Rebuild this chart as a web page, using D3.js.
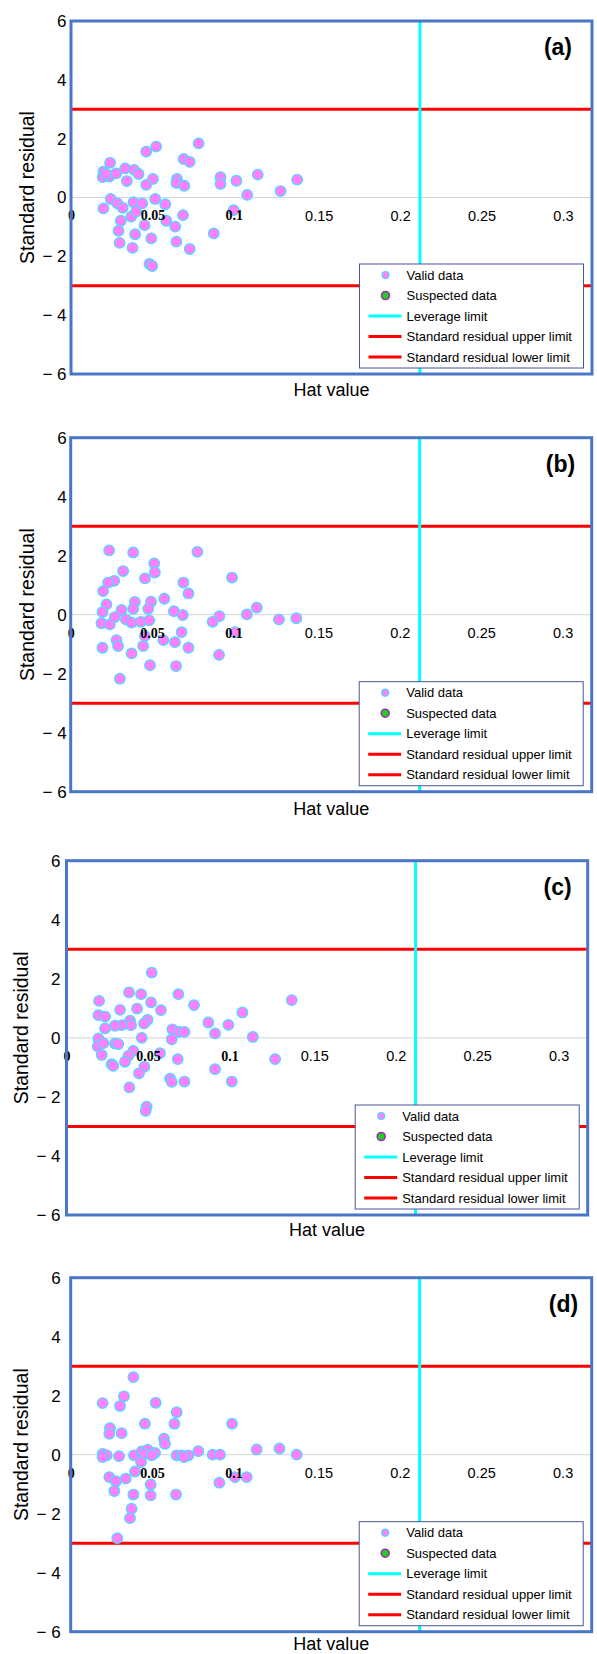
<!DOCTYPE html>
<html>
<head>
<meta charset="utf-8">
<script src="https://cdn.jsdelivr.net/npm/d3@7"></script>
<style>
  body { margin: 0; background: #fff; }
  svg { display: block; font-family: "Liberation Sans", Arial, sans-serif; }
</style>
</head>
<body>
<svg id="chart" width="597" height="1654"></svg>
<script>
// values (hat value, standard residual)
const hatA = [0.0784,0.0523,0.0462,0.0692,0.0729,0.0240,0.0199,0.0195,0.0236,0.0216,0.0277,0.0333,0.0388,0.0415,0.0343,0.0503,0.0462,0.0651,0.0647,0.0696,0.0918,0.0918,0.1016,0.1147,0.1082,0.1287,0.1389,0.0244,0.0285,0.0318,0.0199,0.0384,0.0437,0.0517,0.0579,0.0370,0.0400,0.0306,0.0452,0.0585,0.0640,0.0688,0.0292,0.0394,0.0493,0.0298,0.0378,0.0647,0.0729,0.0877,0.0999,0.0482,0.0499];
const resA = [1.84,1.73,1.56,1.31,1.21,1.18,0.88,0.69,0.71,0.80,0.82,0.99,0.94,0.80,0.56,0.63,0.43,0.63,0.50,0.40,0.69,0.46,0.57,0.78,0.09,0.22,0.61,-0.05,-0.20,-0.35,-0.37,-0.16,-0.20,-0.05,-0.23,-0.65,-0.48,-0.79,-0.94,-0.79,-0.99,-0.60,-1.13,-1.25,-1.39,-1.54,-1.71,-1.50,-1.75,-1.22,-0.43,-2.26,-2.33];

const hatB = [0.0236,0.0384,0.0778,0.0513,0.0517,0.0322,0.0456,0.0267,0.0230,0.0199,0.0692,0.0723,0.0991,0.0220,0.0195,0.0312,0.0394,0.0384,0.0493,0.0476,0.0575,0.0634,0.0688,0.0913,0.0872,0.1082,0.1143,0.1279,0.1386,0.0189,0.0240,0.0271,0.0339,0.0374,0.0431,0.0482,0.0456,0.0569,0.0640,0.0681,0.1010,0.0281,0.0291,0.0195,0.0445,0.0374,0.0723,0.0911,0.0487,0.0647,0.0302];
const resB = [2.18,2.11,2.13,1.74,1.43,1.48,1.23,1.15,1.09,0.80,1.09,0.72,1.26,0.35,0.09,0.16,0.43,0.20,0.44,0.20,0.54,0.12,-0.01,-0.05,-0.24,0.01,0.24,-0.16,-0.12,-0.29,-0.33,-0.08,-0.16,-0.27,-0.24,-0.19,-0.72,-0.86,-0.93,-0.59,-0.59,-0.86,-1.06,-1.12,-1.06,-1.31,-1.12,-1.36,-1.71,-1.74,-2.17];

const hatC = [0.0523,0.0384,0.0458,0.0200,0.0687,0.0519,0.0783,0.1383,0.0329,0.0433,0.0580,0.1080,0.0196,0.0237,0.0390,0.0396,0.0339,0.0298,0.0498,0.0476,0.0237,0.0871,0.0994,0.0912,0.0650,0.0691,0.0724,0.0646,0.0462,0.1144,0.0196,0.0192,0.0226,0.0298,0.0318,0.0216,0.0410,0.0380,0.0359,0.0277,0.0287,0.0478,0.0445,0.0574,0.0683,0.1281,0.0912,0.0386,0.0636,0.0646,0.0724,0.1015,0.0492,0.0486];
const resC = [2.21,1.54,1.48,1.25,1.48,1.20,1.11,1.28,0.95,0.99,0.94,0.86,0.77,0.72,0.58,0.43,0.43,0.41,0.61,0.49,0.32,0.52,0.44,0.15,0.29,0.20,0.20,-0.05,0.00,0.03,-0.02,-0.29,-0.18,-0.19,-0.21,-0.58,-0.44,-0.61,-0.81,-0.89,-0.95,-0.98,-1.20,-0.52,-0.72,-0.72,-1.06,-1.68,-1.38,-1.49,-1.48,-1.48,-2.33,-2.47];

const hatD = [0.0385,0.0196,0.0327,0.0303,0.0522,0.0651,0.0637,0.0456,0.0991,0.0241,0.0237,0.0313,0.0573,0.0579,0.0196,0.0221,0.0196,0.0297,0.0389,0.0436,0.0473,0.0456,0.0518,0.0497,0.0432,0.0651,0.0682,0.0723,0.0696,0.0784,0.0872,0.0917,0.1142,0.1282,0.1388,0.0237,0.0278,0.0338,0.0395,0.0268,0.0385,0.0491,0.0491,0.0647,0.0913,0.1009,0.1081,0.0374,0.0364,0.0286];
const resD = [2.63,1.75,1.98,1.65,1.76,1.44,1.05,1.05,1.05,0.90,0.71,0.73,0.54,0.37,0.03,-0.02,-0.08,-0.05,-0.02,0.11,0.17,0.03,0.06,-0.02,-0.25,-0.02,-0.02,-0.02,-0.08,0.12,0.00,0.00,0.18,0.21,0.00,-0.76,-0.90,-0.81,-0.57,-1.23,-1.35,-1.01,-1.38,-1.35,-0.95,-0.76,-0.76,-1.83,-2.15,-2.83];

const panelTags = ["(a)", "(b)", "(c)", "(d)"];
const xTicks = [0, 0.05, 0.1, 0.15, 0.2, 0.25, 0.3];
const xTickLabels = ["0", "0.05", "0.1", "0.15", "0.2", "0.25", "0.3"];
const yTicks = [-6, -4, -2, 0, 2, 4, 6];
const leverageLimit = 0.2143;
const residLimits = [3, -3];
const legendLabels = ["Valid data", "Suspected data", "Leverage limit", "Standard residual upper limit", "Standard residual lower limit"];

const xDomain = [0, 0.32];
const yDomain = [-6, 6];

// where each panel sits on the page
const panels = [
    { tag: panelTags[0], hat: hatA, res: resA, left: 71,   right: 592,   top: 21,    bottom: 374,    labelPad: 4.5, titleX: 26.7, tagInset: 20,   hatGap: 16 },
    { tag: panelTags[1], hat: hatB, res: resB, left: 70.7, right: 591.7, top: 437.7, bottom: 791.7,  labelPad: 4,   titleX: 26.7, tagInset: 16.5, hatGap: 17 },
    { tag: panelTags[2], hat: hatC, res: resC, left: 66.5, right: 587.7, top: 860.7, bottom: 1215,   labelPad: 6,   titleX: 20.7, tagInset: 16,   hatGap: 14.5 },
    { tag: panelTags[3], hat: hatD, res: resD, left: 70.7, right: 591.7, top: 1277.7, bottom: 1631.7, labelPad: 10, titleX: 20.7, tagInset: 13.5, hatGap: 12.5 }
];

const colors = {
    frame: "#4a76c8",
    point: "#ff7fff",
    pointEdge: "#45dcff",
    leverage: "#00ffff",
    limit: "#ff0000",
    zero: "#d4d4d4",
    legendEdge: "#46559a"
};

const svg = d3.select("#chart");

function drawPanel(p) {
    var x = d3.scaleLinear().domain(xDomain).range([p.left, p.right]);
    var y = d3.scaleLinear().domain(yDomain).range([p.bottom, p.top]);
    var g = svg.append("g");

    g.append("rect")
        .attr("x", p.left).attr("y", p.top)
        .attr("width", p.right - p.left).attr("height", p.bottom - p.top)
        .attr("fill", "#fff");

    // zero grid line
    g.append("line")
        .attr("x1", p.left).attr("x2", p.right)
        .attr("y1", y(0)).attr("y2", y(0))
        .attr("stroke", colors.zero).attr("stroke-width", 1);

    // residual limits
    g.selectAll(".limit")
        .data(residLimits)
        .enter().append("line")
        .attr("class", "limit")
        .attr("x1", p.left).attr("x2", p.right)
        .attr("y1", function (d) { return y(d); })
        .attr("y2", function (d) { return y(d); })
        .attr("stroke", colors.limit).attr("stroke-width", 3);

    // leverage limit
    g.append("line")
        .attr("x1", x(leverageLimit)).attr("x2", x(leverageLimit))
        .attr("y1", p.top).attr("y2", p.bottom)
        .attr("stroke", colors.leverage).attr("stroke-width", 3);

    g.selectAll(".pt")
        .data(d3.range(p.hat.length))
        .enter().append("circle")
        .attr("class", "pt")
        .attr("cx", function (i) { return x(p.hat[i]); })
        .attr("cy", function (i) { return y(p.res[i]); })
        .attr("r", 5.3)
        .attr("fill", colors.point)
        .attr("stroke", colors.pointEdge)
        .attr("stroke-width", 1.2);

    // x axis sits on the zero line
    var xAxis = g.append("g")
        .attr("transform", "translate(0," + y(0) + ")")
        .call(d3.axisBottom(x).tickValues(xTicks).tickSize(0).tickPadding(13)
            .tickFormat(function (d, i) { return xTickLabels[i]; }))
        .attr("font-size", null).attr("font-family", null);
    xAxis.select(".domain").remove();
    xAxis.selectAll("text")
        .attr("fill", "#000")
        .each(function (d, i) {
            var t = d3.select(this);
            if (i < 3) {
                t.style("font-family", "'Liberation Serif', 'DejaVu Serif', serif")
                 .style("font-weight", "bold").style("font-size", "14px");
            } else {
                t.style("font-size", "14.5px").attr("dx", 3.5);
            }
        });

    // y axis
    var yAxis = g.append("g")
        .attr("transform", "translate(" + p.left + ",0)")
        .call(d3.axisLeft(y).tickValues(yTicks).tickSize(0).tickPadding(p.labelPad)
            .tickFormat(function (d) { return d < 0 ? "\u2212 " + Math.abs(d) : String(d); }))
        .attr("font-size", null).attr("font-family", null);
    yAxis.select(".domain").remove();
    yAxis.selectAll("text").attr("fill", "#000").style("font-size", "17px");

    g.append("text")
        .attr("transform", "translate(" + p.titleX + "," + ((p.top + p.bottom) / 2 - 10) + ") rotate(-90)")
        .attr("text-anchor", "middle")
        .attr("dominant-baseline", "central")
        .style("font-size", "19.5px")
        .text("Standard residual");

    g.append("text")
        .attr("x", (p.left + p.right) / 2)
        .attr("y", p.bottom + p.hatGap)
        .attr("text-anchor", "middle")
        .attr("dominant-baseline", "central")
        .style("font-size", "18px")
        .text("Hat value");

    g.append("text")
        .attr("x", p.right - p.tagInset)
        .attr("y", p.top + 26)
        .attr("text-anchor", "end")
        .attr("dominant-baseline", "central")
        .style("font-size", "23px").style("font-weight", "bold")
        .text(p.tag);

    // legend box, bottom right
    var lw = 224, lh = 104;
    var lg = g.append("g")
        .attr("transform", "translate(" + (p.right - 8.5 - lw) + "," + (p.bottom - 6 - lh) + ")");
    lg.append("rect")
        .attr("width", lw).attr("height", lh)
        .attr("fill", "#fff")
        .attr("stroke", colors.legendEdge).attr("stroke-width", 1);

    legendLabels.forEach(function (name, i) {
        var cy = 11 + i * 20.5;
        if (i === 0) {
            lg.append("circle").attr("cx", 26).attr("cy", cy).attr("r", 3.5)
                .attr("fill", colors.point).attr("stroke", colors.pointEdge).attr("stroke-width", 1.2);
        } else if (i === 1) {
            lg.append("circle").attr("cx", 26).attr("cy", cy).attr("r", 4)
                .attr("fill", "#22cc22").attr("stroke", "#a030b0").attr("stroke-width", 1.6);
        } else {
            lg.append("line").attr("x1", 9).attr("x2", 42).attr("y1", cy).attr("y2", cy)
                .attr("stroke", i === 2 ? colors.leverage : colors.limit).attr("stroke-width", 3);
        }
        lg.append("text")
            .attr("x", 47).attr("y", cy)
            .attr("dominant-baseline", "central")
            .style("font-size", "13px")
            .text(name);
    });

    // frame on top
    g.append("rect")
        .attr("x", p.left).attr("y", p.top)
        .attr("width", p.right - p.left).attr("height", p.bottom - p.top)
        .attr("fill", "none")
        .attr("stroke", colors.frame).attr("stroke-width", 3);
}

panels.forEach(drawPanel);
</script>
</body>
</html>
